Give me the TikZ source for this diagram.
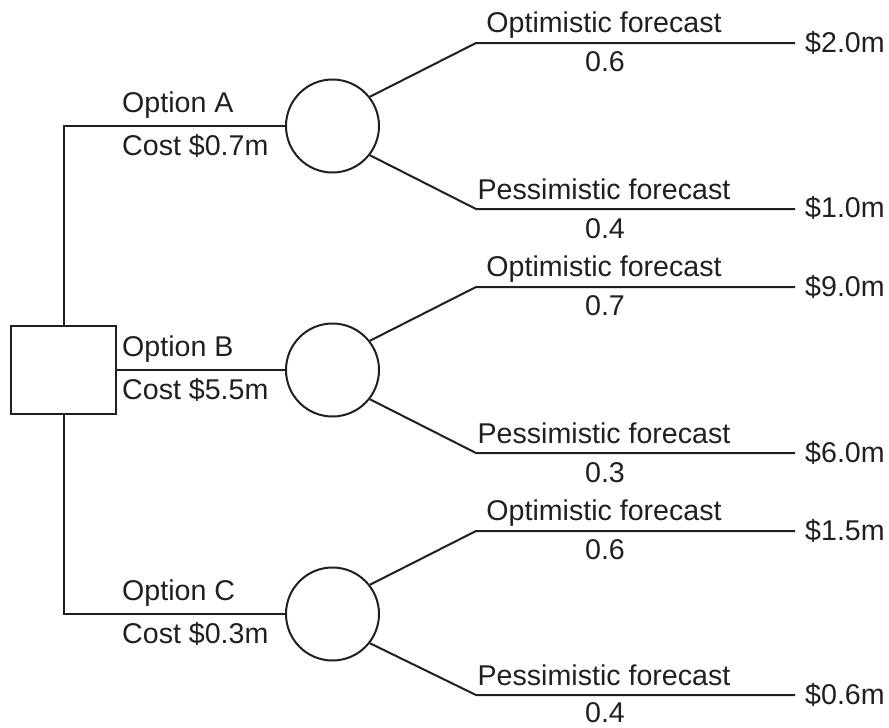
\documentclass[tikz,border=0pt]{standalone}
\usepackage{fontspec}
\setmainfont{Liberation Sans}
\definecolor{ink}{HTML}{231F20}
\begin{document}
\begin{tikzpicture}[x=1pt,y=-1pt,
  every node/.style={font=\fontsize{28.6}{34}\selectfont, text=ink, inner sep=0pt},
  line/.style={draw=ink, line width=2pt},
  chance/.style={circle, draw=ink, line width=2pt, minimum size=93pt, inner sep=0pt},
  decision/.style={rectangle, draw=ink, line width=2pt, minimum width=105pt, minimum height=88pt, inner sep=0pt},
  lbl/.style={anchor=base},
  optl/.style={anchor=base west},
  val/.style={anchor=base west}]
\useasboundingbox (0,0) rectangle (889,728);

% decision square and chance circles
\node[decision] (sq) at (63.5,370) {};
\node[chance] (cA) at (332.5,126) {};
\node[chance] (cB) at (332.5,370) {};
\node[chance] (cC) at (332.5,614) {};

% option connectors
\draw[line] (sq.north) |- (cA.west);
\draw[line] (sq.east) -- (cB.west);
\draw[line] (sq.south) |- (cC.west);

% option labels
\node[optl] (oa) at (122,112.5) {Option A};
\node[optl] (ca) at (122,155) {Cost \$0.7m};
\node[optl] (ob) at (122,356.5) {Option B};
\node[optl] (cb) at (122,399) {Cost \$5.5m};
\node[optl] (oc) at (122,600.5) {Option C};
\node[optl] (cc) at (122,643) {Cost \$0.3m};

% branch points
\foreach \n/\y in {a1/43,a2/209,b1/287,b2/453,c1/531,c2/695}{
  \coordinate (s\n) at (476,\y);
  \coordinate (e\n) at (795,\y);
}

\draw[line] (cA.38) -- (sa1) -- (ea1);
\draw[line] (cA.-38) -- (sa2) -- (ea2);
\draw[line] (cB.38) -- (sb1) -- (eb1);
\draw[line] (cB.-38) -- (sb2) -- (eb2);
\draw[line] (cC.38) -- (sc1) -- (ec1);
\draw[line] (cC.-38) -- (sc2) -- (ec2);

% branch labels
\node[lbl] (fa1) at (604,32) {Optimistic forecast};
\node[lbl] (pa1) at (605,71) {0.6};
\node[lbl] (fa2) at (604,199) {Pessimistic forecast};
\node[lbl] (pa2) at (605,238) {0.4};
\node[lbl] (fb1) at (604,276) {Optimistic forecast};
\node[lbl] (pb1) at (605,315) {0.7};
\node[lbl] (fb2) at (604,443) {Pessimistic forecast};
\node[lbl] (pb2) at (605,482) {0.3};
\node[lbl] (fc1) at (604,520) {Optimistic forecast};
\node[lbl] (pc1) at (605,559) {0.6};
\node[lbl] (fc2) at (604,685) {Pessimistic forecast};
\node[lbl] (pc2) at (605,722) {0.4};

% values
\node[val] (va1) at (805,52) {\$2.0m};
\node[val] (va2) at (805,217) {\$1.0m};
\node[val] (vb1) at (805,296) {\$9.0m};
\node[val] (vb2) at (805,462) {\$6.0m};
\node[val] (vc1) at (805,540) {\$1.5m};
\node[val] (vc2) at (805,704) {\$0.6m};
\end{tikzpicture}
\end{document}
